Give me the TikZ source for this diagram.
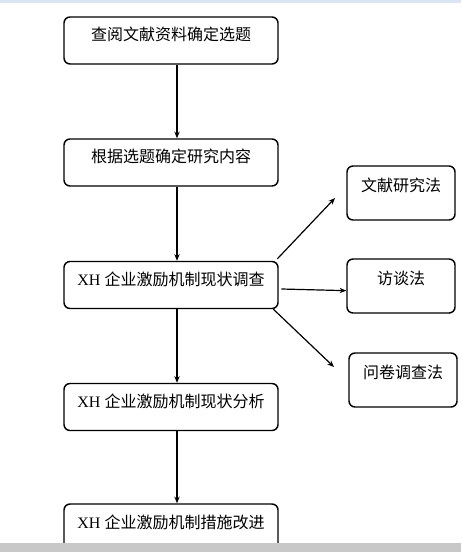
\documentclass[tikz,border=0pt]{standalone}
\usepackage{fontspec}
\setmainfont{Liberation Serif}
\newfontfamily\cjk{Noto Sans CJK SC}
\usetikzlibrary{arrows.meta}
\usetikzlibrary{calc}

\begin{document}
\begin{tikzpicture}[x=0.75pt,y=-0.75pt,
    stepbox/.style={draw=black, line width=1.1pt, rounded corners=4.5pt, inner xsep=0pt, inner ysep=0pt,
        minimum width=160.5pt, text height=18pt, text depth=17.25pt, font=\fontsize{12}{14}\selectfont},
    methodbox/.style={draw=black, line width=1.1pt, rounded corners=4.5pt, inner xsep=0pt, inner ysep=0pt,
        minimum width=81pt, text height=18.75pt, text depth=21.75pt, font=\fontsize{12}{14}\selectfont},
    flow/.style={black, line width=1.2pt, -{Stealth[length=5pt,width=4pt]}},
    side/.style={black, line width=0.9pt, -{Stealth[length=5pt,width=4pt]}}]
            \useasboundingbox (0,0) rectangle (461,552);
            \fill[white] (0,0) rectangle (461,552);
            \fill[fill={rgb,255:red,220;green,230;blue,242}] (0,0) rectangle (461,3);

            \node[stepbox] (b1) at (171,40.5) {\cjk 查阅文献资料确定选题};
            \node[stepbox] (b2) at (171,162.5) {\cjk 根据选题确定研究内容};
            \node[stepbox] (b3) at (171,285) {XH {\cjk 企业激励机制现状调查}};
            \node[stepbox] (b4) at (171,407) {XH {\cjk 企业激励机制现状分析}};
            \node[stepbox] (b5) at (171,527.5) {XH {\cjk 企业激励机制措施改进}};

            \node[methodbox] (ra) at (401,193) {\cjk 文献研究法};
            \node[methodbox] (rb) at (401,286) {\cjk 访谈法};
            \node[methodbox] (rc) at (403,380) {\cjk 问卷调查法};

            \coordinate (ta) at (335,198);
            \coordinate (tc) at (334,367);

            \draw[flow] ([xshift=4.5pt]b1.south) -- ([xshift=4.5pt]b2.north);
            \draw[flow] ([xshift=4.5pt]b2.south) -- ([xshift=4.5pt]b3.north);
            \draw[flow] ([xshift=4.5pt]b3.south) -- ([xshift=4.5pt]b4.north);
            \draw[flow] ([xshift=4.5pt]b4.south) -- ([xshift=4.5pt]b5.north);

            \draw[side] ([xshift=-1pt,yshift=1.5pt]b3.north east) -- (ta);
            \draw[side] ([xshift=2pt,yshift=-3pt]b3.east) -- ([yshift=-3.5pt]rb.west);
            \draw[side] ([xshift=-4pt]b3.south east) -- (tc);

            \fill[fill={rgb,255:red,200;green,200;blue,200}] (0,543) rectangle (461,552);
\end{tikzpicture}
\end{document}
